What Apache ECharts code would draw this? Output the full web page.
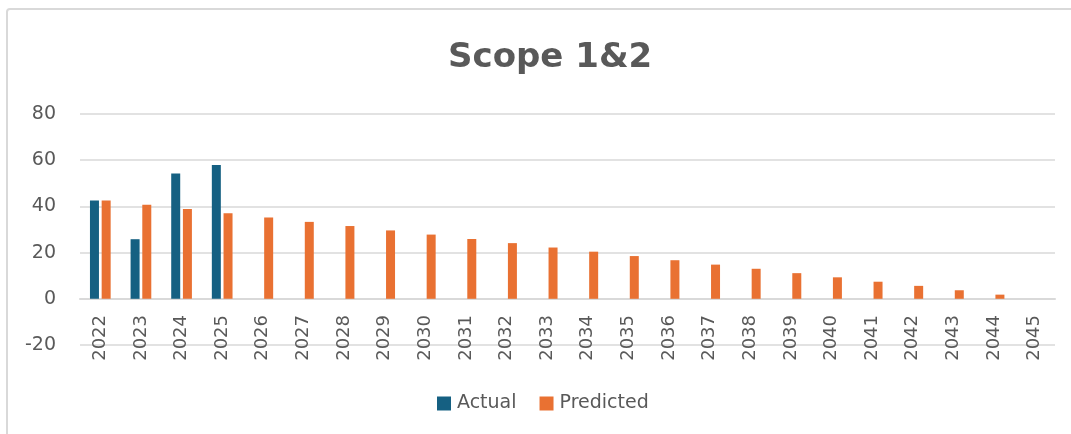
<!DOCTYPE html>
<html>
<head>
<meta charset="utf-8">
<script src="https://cdn.jsdelivr.net/npm/echarts@6/dist/echarts.min.js"></script>
<style>html,body{margin:0;padding:0;background:#fff;}#c{width:1071px;height:434px;}</style>
</head>
<body>
<div id="c"></div>
<script>
const categories = ['2022','2023','2024','2025','2026','2027','2028','2029','2030','2031','2032','2033','2034','2035','2036','2037','2038','2039','2040','2041','2042','2043','2044','2045'];
const actual = [42.6, 25.8, 54.2, 57.9, '-', '-', '-', '-', '-', '-', '-', '-', '-', '-', '-', '-', '-', '-', '-', '-', '-', '-', '-', '-'];
const predicted = [42.6, 40.7, 38.9, 37.0, 35.2, 33.3, 31.5, 29.6, 27.8, 25.9, 24.1, 22.2, 20.4, 18.5, 16.7, 14.8, 13.0, 11.1, 9.3, 7.4, 5.6, 3.7, 1.8, 0];
const yTicks = { min: -20, max: 80, interval: 20 };

const font = 'DejaVu Sans';
const textColor = '#595959';
const chart = echarts.init(document.getElementById('c'), null, { renderer: 'canvas' });
chart.setOption({
  backgroundColor: '#ffffff',
  animation: false,
  graphic: [{
    type: 'rect',
    shape: { x: 7, y: 9, width: 1200, height: 600, r: 3 },
    style: { fill: 'none', stroke: '#d9d9d9', lineWidth: 2 },
    silent: true
  }],
  title: {
    text: 'Scope 1&2',
    left: 443,
    top: 36,
    textStyle: { fontFamily: font, fontSize: 34, fontWeight: 'bold', color: textColor }
  },
  legend: {
    top: 389,
    left: 432,
    itemWidth: 14,
    itemHeight: 14,
    itemGap: 23,
    icon: 'rect',
    textStyle: { fontFamily: font, fontSize: 19, color: textColor, padding: [0, 0, 0, 1] },
    data: ['Actual', 'Predicted']
  },
  grid: { left: 80, right: 16, top: 114, bottom: 89, containLabel: false },
  xAxis: {
    type: 'category',
    data: categories,
    axisLine: { show: true, onZero: true, lineStyle: { color: '#d9d9d9', width: 2 } },
    axisTick: { show: false },
    axisLabel: { rotate: 90, margin: -30, interval: 0, fontFamily: font, fontSize: 18, color: textColor }
  },
  yAxis: {
    type: 'value',
    min: yTicks.min,
    max: yTicks.max,
    interval: yTicks.interval,
    axisLine: { show: false },
    axisTick: { show: false },
    splitLine: { show: true, lineStyle: { color: '#d9d9d9', width: 1.5 } },
    axisLabel: { margin: 24, fontFamily: font, fontSize: 19, color: textColor }
  },
  series: [
    { name: 'Actual', type: 'bar', data: actual, barWidth: 9, barGap: '30%', itemStyle: { color: '#156082' } },
    { name: 'Predicted', type: 'bar', data: predicted, barWidth: 9, barGap: '30%', itemStyle: { color: '#E97132' } }
  ]
});
</script>
</body>
</html>
